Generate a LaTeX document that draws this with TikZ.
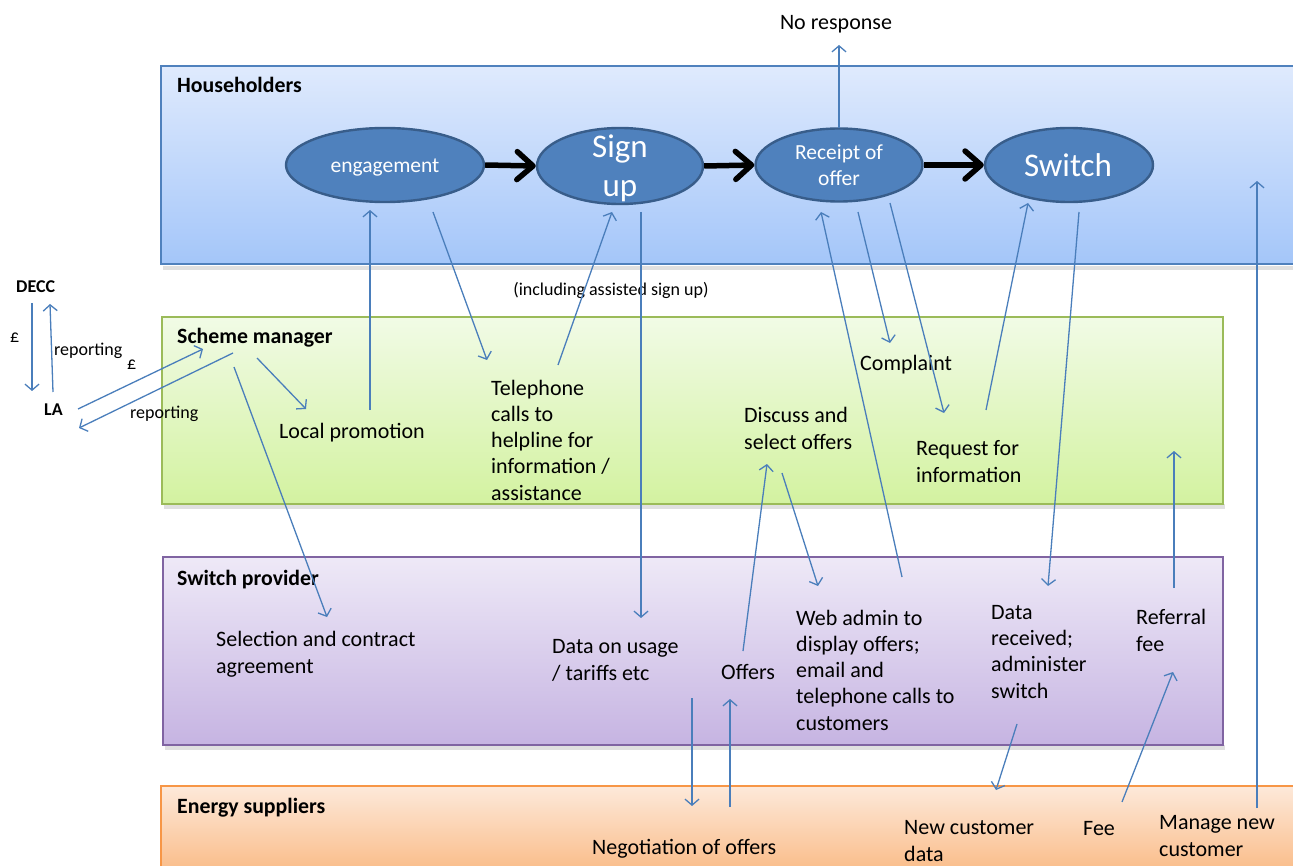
\documentclass[tikz,border=0pt]{standalone}
\usepackage{fontspec}
\setmainfont{Carlito}
\usetikzlibrary{arrows.meta,shapes.geometric}

\definecolor{hhTop}{RGB}{223,234,253}
\definecolor{hhBot}{RGB}{164,198,249}
\definecolor{hhLine}{RGB}{79,129,189}
\definecolor{smTop}{RGB}{241,251,230}
\definecolor{smBot}{RGB}{211,242,160}
\definecolor{smLine}{RGB}{155,187,89}
\definecolor{spTop}{RGB}{238,233,247}
\definecolor{spBot}{RGB}{198,180,226}
\definecolor{spLine}{RGB}{128,100,162}
\definecolor{esTop}{RGB}{253,233,218}
\definecolor{esBot}{RGB}{250,189,138}
\definecolor{esLine}{RGB}{247,150,70}
\definecolor{ovalFill}{RGB}{79,129,189}
\definecolor{ovalLine}{RGB}{56,93,138}
\definecolor{linkBlue}{RGB}{74,126,187}

\begin{document}
\begin{tikzpicture}[x=1pt,y=-1pt,
  band/.style={line width=1.4pt},
  bandshadow/.style={fill=black,opacity=0.12},
  oval/.style={ellipse,draw=ovalLine,line width=2.4pt,fill=ovalFill,inner sep=0},
  ovaltext/.style={text=white,align=center,inner sep=0},
  flow/.style={line width=5.5pt,black,-{Straight Barb[length=16pt,width=28pt,line width=5.5pt,round]}},
  conn/.style={linkBlue,line width=1.3pt,-{Straight Barb[length=6pt,width=14pt,line width=1.3pt]}},
  body/.style={font=\fontsize{22}{26.25}\selectfont,align=left,anchor=base west,inner sep=0},
  title/.style={font=\fontsize{21.8}{25}\selectfont\bfseries,anchor=base west,inner sep=0},
  small/.style={font=\fontsize{18}{22}\selectfont,anchor=base west,inner sep=0},
  smallbold/.style={font=\fontsize{18}{22}\selectfont\bfseries,anchor=base west,inner sep=0}]

\useasboundingbox (0,0) rectangle (1293,866);
\clip (0,0) rectangle (1293,866);

% ---------- swim lanes ----------
\fill[bandshadow] (163,266) rectangle (1300,270);
\shade[top color=hhTop,bottom color=hhBot] (161,66) rectangle (1300,264);
\draw[band,draw=hhLine] (1300,66) -- (161,66) -- (161,264) -- (1300,264);

\fill[bandshadow] (164,504) rectangle (1225,509);
\shade[top color=smTop,bottom color=smBot] (162,317) rectangle (1223,504);
\draw[band,draw=smLine] (162,317) rectangle (1223,504);

\fill[bandshadow] (165,745) rectangle (1225,750);
\shade[top color=spTop,bottom color=spBot] (163,557) rectangle (1223,745);
\draw[band,draw=spLine] (163,557) rectangle (1223,745);

\shade[top color=esTop,bottom color=esBot] (161,786) rectangle (1300,870);
\draw[band,draw=esLine] (161,870) -- (161,786) -- (1300,786);

% ---------- lane titles ----------
\node[title] (tHH) at (177,93) {Householders};
\node[title] (tSM) at (177,344) {Scheme manager};
\node[title] (tSP) at (177,585) {Switch provider};
\node[title] (tES) at (177,813) {Energy suppliers};

% ---------- householder journey ----------
\node[oval,minimum width=198,minimum height=74] (eng) at (385,165) {};
\node[oval,minimum width=166,minimum height=76] (sign) at (620,166) {};
\node[oval,minimum width=167,minimum height=73] (rec) at (839,165) {};
\node[oval,minimum width=168,minimum height=74] (sw) at (1069,165) {};

\node[ovaltext,font=\fontsize{21.5}{26}\selectfont] (engT) at (385,168) {engagement};
\node[ovaltext,font=\fontsize{33}{39}\selectfont] (signT) at (620,168) {Sign\\up};
\node[ovaltext,font=\fontsize{21.5}{26}\selectfont] (recT) at (839,165) {Receipt of\\offer};
\node[ovaltext,font=\fontsize{33}{39}\selectfont] (swT) at (1068,165) {Switch};

\draw[flow] (eng.east) -- (sign.west);
\draw[flow] (sign.east) -- (rec.west);
\draw[flow] (rec.east) -- (sw.west);

% ---------- labels (base = baseline of the last line) ----------
\node[body,anchor=base] (nores) at (836,30) {No response};
\node[small,anchor=base] (assist) at (611,296) {(including assisted sign up)};
\node[body] (compl) at (860,371) {Complaint};
\node[body] (lprom) at (279,438) {Local promotion};
\node[body] (tel) at (491,500) {Telephone\\calls to\\helpline for\\information /\\assistance};
\node[body] (disc) at (744,449) {Discuss and\\select offers};
\node[body] (req) at (916,482) {Request for\\information};
\node[body] (sel) at (216,673) {Selection and contract\\agreement};
\node[body] (usage) at (552,680) {Data on usage\\/ tariffs etc};
\node[body] (offers) at (721,679) {Offers};
\node[body] (web) at (796,730) {Web admin to\\display offers;\\email and\\telephone calls to\\customers};
\node[body] (drec) at (991,698) {Data\\received;\\administer\\switch};
\node[body] (ref) at (1136,651) {Referral\\fee};
\node[body] (nego) at (592,854) {Negotiation of offers};
\node[body] (ncd) at (904,861) {New customer\\data};
\node[body] (fee) at (1083,835) {Fee};
\node[body] (mnc) at (1159,856) {Manage new\\customer};

\node[smallbold] (decc) at (16,293) {DECC};
\node[smallbold] (la) at (44,416) {LA};
\node[small] (pound1) at (10,343) {£};
\node[small] (rep1) at (54,356) {reporting};
\node[small] (pound2) at (127,370) {£};
\node[small] (rep2) at (130,418) {reporting};

% ---------- connector end points ----------
\coordinate (lpTop) at (370,410);   \coordinate (engBot) at (370,210);
\coordinate (engOut) at (433,212);  \coordinate (telIn) at (487,360);
\coordinate (telOut) at (558,365);  \coordinate (signIn) at (612,212);
\coordinate (signOut) at (641,212); \coordinate (usageIn) at (641,618);
\coordinate (recTop) at (839,128);  \coordinate (noresIn) at (839,45);
\coordinate (recOut1) at (858,212); \coordinate (complIn) at (890,343);
\coordinate (recOut2) at (890,203); \coordinate (reqIn) at (944,413);
\coordinate (reqOut) at (986,410);  \coordinate (swIn) at (1028,203);
\coordinate (webOut) at (902,577);  \coordinate (recIn) at (821,212);
\coordinate (swOut) at (1079,212);  \coordinate (drecIn) at (1048,586);
\coordinate (discOut) at (782,473); \coordinate (webIn) at (818,586);
\coordinate (offOut) at (743,651);  \coordinate (discIn) at (767,464);
\coordinate (esUp) at (730,807);    \coordinate (offIn) at (730,699);
\coordinate (usOut) at (692,698);   \coordinate (esIn) at (692,806);
\coordinate (drecOut) at (1017,724);\coordinate (ncdIn) at (996,790);
\coordinate (feeOut) at (1122,802); \coordinate (refIn) at (1173,672);
\coordinate (refOut) at (1174,588); \coordinate (smIn) at (1174,451);
\coordinate (mncOut) at (1257,808); \coordinate (hhIn) at (1257,181);
\coordinate (smOut1) at (257,358);  \coordinate (lpIn) at (306,409);
\coordinate (smOut2) at (234,367);  \coordinate (selIn) at (327,617);
\coordinate (laOut) at (78,409);    \coordinate (smIn2) at (203,349);
\coordinate (smOut3) at (233,353);  \coordinate (laIn) at (79,428);
\coordinate (deccOut) at (32,303);  \coordinate (laIn2) at (32,391);
\coordinate (laOut2) at (53,392);   \coordinate (deccIn) at (50,304);

% ---------- connectors ----------
\draw[conn] (lpTop) -- (engBot);
\draw[conn] (engOut) -- (telIn);
\draw[conn] (telOut) -- (signIn);
\draw[conn] (signOut) -- (usageIn);
\draw[conn] (recTop) -- (noresIn);
\draw[conn] (recOut1) -- (complIn);
\draw[conn] (recOut2) -- (reqIn);
\draw[conn] (reqOut) -- (swIn);
\draw[conn] (webOut) -- (recIn);
\draw[conn] (swOut) -- (drecIn);
\draw[conn] (discOut) -- (webIn);
\draw[conn] (offOut) -- (discIn);
\draw[conn] (esUp) -- (offIn);
\draw[conn] (usOut) -- (esIn);
\draw[conn] (drecOut) -- (ncdIn);
\draw[conn] (feeOut) -- (refIn);
\draw[conn] (refOut) -- (smIn);
\draw[conn] (mncOut) -- (hhIn);
\draw[conn] (smOut1) -- (lpIn);
\draw[conn] (smOut2) -- (selIn);
\draw[conn] (laOut) -- (smIn2);
\draw[conn] (smOut3) -- (laIn);
\draw[conn] (deccOut) -- (laIn2);
\draw[conn] (laOut2) -- (deccIn);
\end{tikzpicture}
\end{document}
